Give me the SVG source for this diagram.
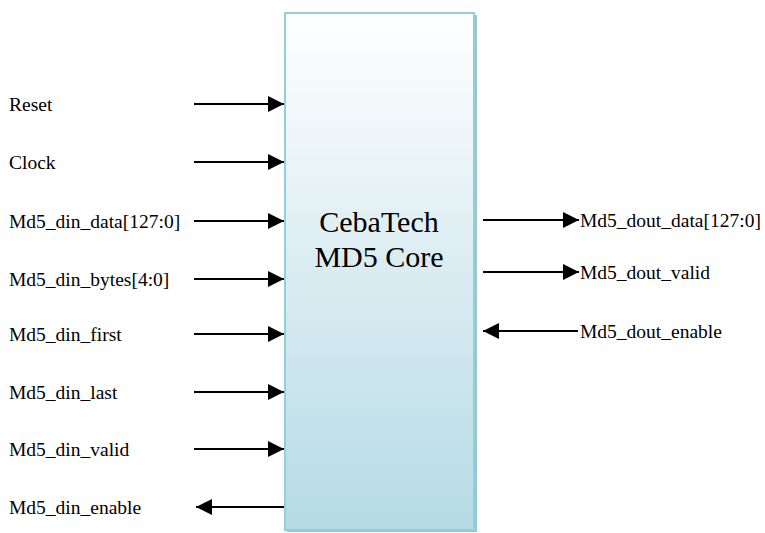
<svg xmlns="http://www.w3.org/2000/svg" width="765" height="533" viewBox="0 0 765 533">
<style>
.lbl{font-size:19.5px;fill:#000}
.title{font-size:30px;fill:#000;text-anchor:middle}
.wire{stroke:#000;stroke-width:2;fill:none;marker-end:url(#ah)}
</style>
<defs>
<linearGradient id="g" x1="0" y1="0" x2="0" y2="1">
<stop offset="0" stop-color="#ffffff"/>
<stop offset="0.45" stop-color="#deeef3"/>
<stop offset="1" stop-color="#b5dbe5"/>
</linearGradient>
<marker id="ah" markerUnits="userSpaceOnUse" markerWidth="17" markerHeight="16" refX="16" refY="8" orient="auto">
<path d="M0,0 L16,8 L0,16 z" fill="#000"/>
</marker>
</defs>
<g id="core" font-family="'Liberation Serif', 'Times New Roman', 'DejaVu Serif', serif">
<rect x="287" y="15" width="190" height="517" fill="#9cc5d1"/>
<rect x="285" y="13" width="189" height="517" fill="url(#g)" stroke="#92cfdc" stroke-width="2"/>
<text class="title" x="379" y="232">CebaTech</text>
<text class="title" x="379" y="267">MD5 Core</text>
</g>
<g id="labels" font-family="'Liberation Serif', 'Times New Roman', 'DejaVu Serif', serif">
<text class="lbl" x="9" y="111">Reset</text>
<text class="lbl" x="9" y="169">Clock</text>
<text class="lbl" x="9" y="228">Md5_din_data[127:0]</text>
<text class="lbl" x="9" y="286">Md5_din_bytes[4:0]</text>
<text class="lbl" x="9" y="341">Md5_din_first</text>
<text class="lbl" x="9" y="399">Md5_din_last</text>
<text class="lbl" x="9" y="456">Md5_din_valid</text>
<text class="lbl" x="9" y="514">Md5_din_enable</text>
<text class="lbl" x="580" y="227">Md5_dout_data[127:0]</text>
<text class="lbl" x="580" y="279">Md5_dout_valid</text>
<text class="lbl" x="580" y="338">Md5_dout_enable</text>
</g>
<g id="connectors">
<line class="wire" x1="194" y1="104" x2="284" y2="104"/>
<line class="wire" x1="194" y1="162" x2="284" y2="162"/>
<line class="wire" x1="194" y1="221" x2="284" y2="221"/>
<line class="wire" x1="194" y1="279" x2="284" y2="279"/>
<line class="wire" x1="194" y1="334" x2="284" y2="334"/>
<line class="wire" x1="194" y1="392" x2="284" y2="392"/>
<line class="wire" x1="194" y1="449" x2="284" y2="449"/>
<line class="wire" x1="284" y1="507" x2="196" y2="507"/>
<line class="wire" x1="483" y1="220" x2="579" y2="220"/>
<line class="wire" x1="483" y1="272" x2="579" y2="272"/>
<line class="wire" x1="578" y1="331" x2="483" y2="331"/>
</g>
</svg>
